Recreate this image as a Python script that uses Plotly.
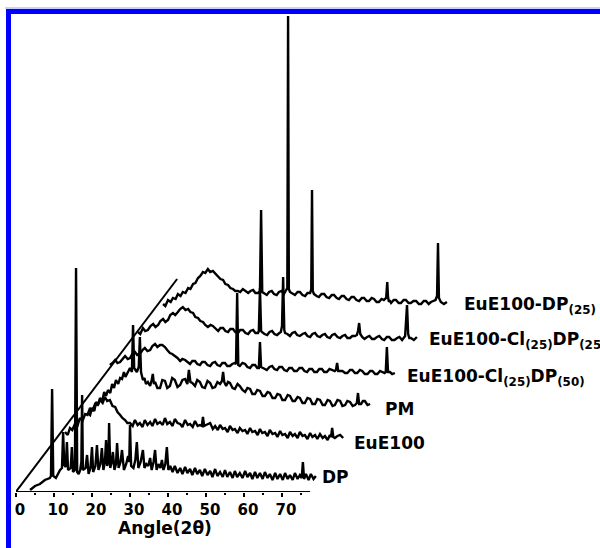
import plotly.graph_objects as go

# ---------------- data (2θ in degrees, intensity in arbitrary units) ----------------
dp_angle = [3.7, 5.0, 6.3, 7.6, 8.9, 9.2, 9.5, 9.8, 10.5, 11.6, 12.1, 12.4, 12.7, 13.1, 13.4, 13.7,
            14.4, 14.7, 15.0, 15.5, 15.8, 16.1, 16.5, 16.9, 17.2, 17.4, 17.6, 18.3, 18.7, 19.1, 19.6,
            20.0, 20.3, 20.9, 21.3, 21.7, 22.2, 22.6, 23.0, 23.4, 23.7, 24.0, 24.3, 24.5, 24.8, 25.2,
            25.5, 25.9, 26.3, 26.6, 27.0, 27.5, 27.9, 28.4, 29.0, 29.5, 29.8, 30.0, 30.3, 30.9, 31.4,
            31.8, 32.2, 32.8, 33.4, 33.8, 34.3, 34.8, 35.3, 35.7, 36.2, 36.6, 37.0, 37.5, 38.0, 38.4,
            38.8, 39.3, 39.7, 40.1, 40.6, 41.2, 41.8, 42.5, 43.2, 43.8, 44.5, 45.1, 45.8, 46.4, 47.1,
            47.7, 48.4, 49.0, 49.7, 50.4, 51.1, 51.7, 52.4, 53.0, 53.7, 54.4, 55.0, 55.6, 56.3, 57.0,
            57.6, 58.2, 58.9, 59.6, 60.3, 60.9, 61.6, 62.2, 62.9, 63.5, 64.2, 64.9, 65.5, 66.2, 66.8,
            67.5, 68.2, 68.8, 69.5, 70.2, 70.8, 71.5, 72.1, 72.8, 73.4, 74.1, 74.7, 75.2, 75.5, 75.8,
            76.3, 77.0, 77.6, 78.3, 78.9]
dp_int = [2, 6, 8, 12, 14, 16, 103, 16, 14, 22, 24, 60, 27, 25, 50, 22,
          24, 45, 20, 22, 224, 20, 18, 22, 30, 97, 22, 24, 37, 18, 24,
          45, 20, 26, 47, 22, 28, 44, 22, 30, 52, 26, 30, 69, 24, 30,
          40, 22, 28, 49, 24, 30, 42, 22, 28, 36, 30, 67, 26, 24, 32,
          50, 24, 30, 42, 24, 28, 26, 34, 22, 30, 42, 22, 28, 24, 32,
          22, 28, 45, 22, 26, 20, 26, 19, 24, 18, 25, 19, 23, 17, 24,
          18, 22, 16, 23, 17, 21, 15, 23, 16, 20, 15, 22, 15, 20, 14,
          21, 15, 19, 14, 21, 15, 19, 13, 20, 14, 19, 13, 20, 14, 18,
          12, 19, 13, 18, 12, 19, 13, 17, 12, 19, 13, 17, 14, 30, 13,
          18, 12, 18, 13, 16]

eue_angle = [6.1, 6.8, 7.4, 8.0, 8.7, 9.3, 10.0, 10.7, 11.4, 12.0, 12.7, 13.3, 14.0, 14.7, 15.3,
             16.0, 16.6, 17.2, 17.9, 18.6, 19.3, 19.9, 20.6, 21.2, 21.9, 22.5, 23.2, 23.9, 24.5,
             25.2, 25.8, 26.5, 27.1, 27.8, 28.5, 29.1, 29.8, 30.4, 31.1, 31.8, 32.4, 33.0, 33.7,
             34.4, 35.0, 35.7, 36.4, 37.0, 37.7, 38.4, 39.0, 39.7, 40.3, 41.0, 41.6, 42.1, 42.4,
             42.7, 43.2, 44.3, 45.0, 45.6, 46.3, 46.9, 47.6, 48.2, 48.9, 49.5, 50.2, 50.8, 51.5,
             52.1, 52.8, 53.5, 54.1, 54.8, 55.4, 56.1, 56.8, 57.4, 58.0, 58.7, 59.4, 60.0, 60.7,
             61.4, 62.0, 62.7, 63.3, 64.0, 64.7, 65.3, 66.0, 66.6, 67.3, 67.9, 68.6, 69.2, 69.9,
             70.6, 71.2, 71.9, 72.5, 73.2, 73.9, 74.5, 75.2, 75.8, 76.1, 76.4, 76.7, 77.1, 77.8,
             78.5, 79.3]
eue_int = [26, 23, 30, 28, 34, 31, 40, 37, 44, 43, 50, 47, 54, 53, 58,
           55, 61, 57, 58, 52, 51, 46, 43, 40, 38, 35, 35, 32, 38,
           33, 35, 31, 38, 33, 36, 32, 39, 34, 36, 33, 40, 34, 36,
           32, 39, 35, 34, 31, 38, 33, 34, 31, 37, 32, 33, 32, 41,
           32, 33, 35, 29, 32, 28, 33, 29, 30, 26, 32, 28, 29, 25,
           30, 27, 28, 24, 30, 26, 27, 23, 29, 25, 26, 22, 28, 24,
           25, 21, 27, 23, 24, 20, 26, 22, 24, 20, 26, 22, 23, 19,
           25, 21, 23, 19, 24, 20, 22, 18, 23, 21, 30, 21, 20, 22,
           23, 20]

pm_angle = [5.3, 5.9, 6.4, 7.0, 7.5, 8.0, 8.5, 9.1, 9.6, 10.1, 10.6, 11.2, 11.7, 12.2, 12.7, 13.3,
            13.8, 14.3, 14.8, 15.2, 15.6, 16.0, 16.4, 16.9, 17.2, 17.5, 18.2, 18.7, 19.0, 19.3,
            19.8, 20.2, 20.6, 21.1, 21.7, 22.1, 22.4, 22.7, 23.0, 23.6, 24.3, 24.9, 25.6, 26.2,
            26.9, 27.5, 28.2, 28.9, 29.6, 30.2, 30.9, 31.5, 31.9, 32.3, 32.8, 33.5, 34.1, 34.8,
            35.4, 36.1, 36.8, 37.5, 38.1, 38.8, 39.4, 40.1, 40.6, 40.9, 41.2, 41.7, 42.2, 42.7,
            43.4, 44.0, 44.7, 45.3, 46.0, 46.7, 47.3, 48.0, 48.6, 49.3, 49.9, 50.6, 51.3, 51.9,
            52.6, 53.2, 53.9, 54.6, 55.2, 55.9, 56.5, 57.2, 57.9, 58.5, 59.2, 59.8, 60.5, 61.1,
            61.8, 62.4, 63.1, 63.8, 64.4, 65.1, 65.7, 66.4, 67.1, 67.7, 68.4, 69.0, 69.7, 70.3,
            71.0, 71.7, 72.3, 73.0, 73.6, 74.3, 75.0, 75.6, 76.1, 76.4, 76.7, 77.2, 77.7, 78.2,
            78.9, 79.6]
pm_int = [11, 9, 16, 13, 22, 19, 26, 23, 32, 28, 34, 31, 40, 36, 44, 40,
          46, 45, 52, 47, 50, 54, 56, 52, 99, 56, 52, 57, 87, 52,
          44, 46, 40, 42, 38, 44, 50, 40, 42, 36, 36, 44, 43, 36,
          38, 46, 44, 37, 39, 44, 45, 40, 54, 42, 41, 38, 44, 42,
          37, 36, 43, 41, 36, 37, 42, 40, 43, 52, 42, 38, 42, 41,
          36, 35, 40, 38, 34, 32, 36, 35, 30, 30, 34, 33, 28, 28,
          32, 31, 26, 26, 30, 29, 24, 24, 29, 28, 23, 23, 27, 26,
          21, 21, 26, 25, 20, 20, 25, 24, 19, 19, 24, 23, 18, 19,
          24, 23, 18, 19, 23, 22, 18, 19, 21, 31, 20, 20, 23, 23,
          19, 20]

d50_angle = [4.3, 5.0, 5.7, 6.3, 7.0, 7.6, 8.3, 9.0, 9.6, 10.2, 10.9, 11.5, 12.2, 12.9, 13.5,
             14.2, 14.9, 15.5, 16.2, 16.8, 17.5, 18.1, 18.8, 19.4, 20.1, 20.7, 21.4, 22.1, 22.8,
             23.4, 24.1, 24.7, 25.4, 26.0, 26.7, 27.3, 28.0, 28.6, 29.3, 30.0, 30.7, 31.3, 32.0,
             32.6, 33.3, 33.9, 34.6, 35.2, 35.9, 36.5, 37.1, 37.5, 37.8, 38.1, 38.5, 39.2, 39.9,
             40.5, 41.2, 41.8, 42.5, 43.1, 43.5, 43.8, 44.1, 44.6, 45.6, 46.3, 47.0, 47.6, 48.3,
             48.9, 49.6, 50.2, 50.9, 51.5, 52.2, 52.8, 53.5, 54.2, 54.9, 55.5, 56.2, 56.8, 57.5,
             58.1, 58.8, 59.4, 60.1, 60.7, 61.4, 62.1, 62.8, 63.5, 63.8, 64.1, 64.4, 64.9, 65.5,
             66.2, 66.8, 67.5, 68.1, 68.8, 69.4, 70.1, 70.7, 71.4, 72.1, 72.8, 73.4, 74.1, 74.7,
             75.4, 76.0, 76.6, 76.9, 77.2, 77.5, 78.0, 78.6, 79.3]
d50_int = [25, 27, 30, 27, 28, 31, 34, 31, 32, 36, 38, 35, 36, 40, 42,
           39, 40, 44, 46, 43, 45, 45, 43, 40, 37, 36, 34, 32, 29,
           31, 30, 28, 26, 29, 29, 26, 25, 28, 28, 25, 24, 27, 28,
           25, 24, 27, 27, 24, 24, 26, 27, 26, 97, 25, 24, 27, 26,
           23, 22, 25, 25, 22, 22, 48, 23, 22, 20, 23, 24, 21, 20,
           23, 23, 20, 19, 22, 22, 19, 19, 22, 22, 19, 18, 21, 21,
           18, 18, 21, 21, 18, 18, 21, 20, 19, 20, 27, 19, 19, 19,
           17, 17, 20, 20, 17, 17, 20, 19, 16, 16, 19, 19, 16, 16,
           19, 18, 17, 18, 43, 18, 18, 16, 17]

c25_angle = [5.8, 6.4, 7.1, 7.7, 8.4, 9.1, 9.8, 10.4, 11.1, 11.7, 12.4, 13.0, 13.7, 14.3, 15.0,
             15.6, 16.3, 16.9, 17.6, 18.3, 19.0, 19.6, 20.3, 20.9, 21.6, 22.2, 22.9, 23.5, 24.2,
             24.9, 25.5, 26.2, 26.9, 27.5, 28.2, 28.8, 29.5, 30.1, 30.8, 31.4, 32.1, 32.7, 33.4,
             34.1, 34.8, 35.4, 36.1, 36.7, 37.4, 37.6, 37.9, 38.2, 38.4, 39.1, 39.8, 40.4, 41.1,
             41.7, 42.4, 43.0, 43.4, 43.7, 44.0, 44.3, 44.5, 45.1, 45.8, 46.4, 47.1, 47.7, 48.4,
             49.1, 49.8, 50.4, 51.1, 51.7, 52.4, 53.0, 53.7, 54.3, 55.0, 55.6, 56.3, 56.9, 57.6,
             58.3, 59.0, 59.6, 60.3, 60.9, 61.6, 62.2, 62.9, 63.4, 63.7, 64.0, 64.3, 64.8, 65.4,
             66.1, 66.7, 67.4, 68.0, 68.7, 69.3, 70.0, 70.6, 71.3, 71.9, 72.6, 73.3, 74.0, 74.6,
             75.3, 75.8, 76.1, 76.6, 76.9, 77.2, 77.6, 78.4, 79.2]
c25_int = [24, 22, 28, 25, 26, 30, 32, 29, 31, 35, 37, 34, 36, 41, 43,
           41, 44, 47, 49, 46, 47, 44, 43, 39, 38, 35, 34, 31, 29,
           31, 30, 27, 25, 28, 28, 25, 24, 27, 27, 24, 23, 26, 26,
           23, 22, 25, 26, 23, 23, 25, 68, 25, 24, 22, 21, 24, 25,
           22, 21, 23, 24, 30, 79, 26, 23, 22, 20, 23, 24, 21, 20,
           22, 23, 20, 19, 22, 23, 20, 19, 21, 22, 19, 18, 21, 22,
           19, 18, 20, 21, 18, 18, 20, 20, 21, 25, 33, 22, 19, 17,
           19, 20, 17, 17, 19, 20, 17, 16, 19, 19, 16, 16, 18, 19,
           16, 18, 20, 51, 22, 18, 18, 16, 19]

d25_angle = [4.7, 5.3, 6.0, 6.7, 7.3, 8.0, 8.6, 9.3, 9.9, 10.6, 11.3, 11.9, 12.6, 13.2, 13.9,
             14.5, 15.2, 15.8, 16.5, 17.1, 17.8, 18.5, 19.2, 19.8, 20.5, 21.1, 21.8, 22.4, 23.1,
             23.7, 24.4, 25.0, 25.7, 26.4, 27.1, 27.7, 28.4, 29.0, 29.7, 30.2, 30.5, 30.8, 31.3,
             32.0, 32.6, 33.3, 33.9, 34.6, 35.2, 35.9, 36.5, 37.1, 37.4, 37.6, 37.8, 38.1, 38.8,
             39.4, 40.1, 40.7, 41.4, 42.1, 42.7, 43.4, 43.7, 43.9, 44.1, 44.4, 45.1, 45.7, 46.4,
             47.1, 47.7, 48.4, 49.1, 49.7, 50.4, 51.0, 51.7, 52.3, 53.0, 53.6, 54.3, 54.9, 55.6,
             56.3, 57.0, 57.6, 58.3, 58.9, 59.6, 60.2, 60.9, 61.5, 62.2, 62.8, 63.4, 63.7, 63.9,
             64.1, 64.4, 64.7, 65.4, 66.0, 66.7, 67.3, 68.0, 68.6, 69.3, 69.9, 70.6, 71.3, 72.0,
             72.6, 73.3, 73.9, 74.6, 75.2, 75.8, 76.4, 76.8, 77.05, 77.3, 77.8, 78.6, 79.4]
d25_int = [18, 16, 22, 20, 24, 23, 28, 26, 30, 29, 34, 33, 38, 39, 44,
           46, 50, 49, 53, 50, 51, 48, 46, 43, 42, 38, 37, 34, 33,
           31, 31, 30, 33, 31, 29, 31, 32, 29, 29, 31, 112, 30, 29,
           27, 30, 31, 28, 27, 30, 31, 28, 32, 34, 306, 33, 30, 28,
           27, 30, 30, 27, 26, 29, 29, 33, 132, 31, 28, 26, 25, 28,
           28, 25, 24, 27, 27, 24, 23, 26, 26, 23, 22, 25, 25, 22,
           21, 24, 24, 21, 21, 24, 23, 20, 20, 23, 22, 24, 40, 25,
           21, 21, 19, 22, 22, 19, 19, 22, 22, 19, 19, 21, 21, 18,
           18, 21, 21, 18, 20, 21, 22, 26, 79, 24, 20, 18, 20]

series_angles = [dp_angle, eue_angle, pm_angle, d50_angle, c25_angle, d25_angle]
series_ints = [dp_int, eue_int, pm_int, d50_int, c25_int, d25_int]
series_labels = ["DP", "EuE100", "PM",
                 "EuE100-Cl<sub>(25)</sub>DP<sub>(50)</sub>",
                 "EuE100-Cl<sub>(25)</sub>DP<sub>(25)</sub>",
                 "EuE100-DP<sub>(25)</sub>"]
tick_vals = [0, 10, 20, 30, 40, 50, 60, 70]
tick_text = ["0", "10", "20", "30", "40", "50", "60", "70"]
minor_vals = [5, 15, 25, 35, 45, 55, 65, 75]

# ---------------- waterfall layout (offsets, label anchors) ----------------
x_shift = [0, 6.8, 13.6, 20.4, 26.3, 34.0]
y_shift = [0, 34, 68, 102, 136, 170]
label_x = [80.0, 88.4, 96.6, 102.4, 108.2, 117.4]
label_y = [15, 49, 83, 115, 152, 187]

PX = 3.8  # pixels per degree
X_MAX = 584 / PX
Y_MAX = 482

fig = go.Figure()
for a, v, xs, ys in zip(series_angles, series_ints, x_shift, y_shift):
    fig.add_trace(go.Scatter(
        x=[t + xs for t in a], y=[w + ys for w in v],
        mode="lines", line=dict(color="black", width=2.4),
        hoverinfo="skip", showlegend=False))

font_lab = dict(family="DejaVu Sans", size=17, color="black", weight="bold")
for txt, lx, ly in zip(series_labels, label_x, label_y):
    fig.add_annotation(x=lx, y=ly, xref="x", yref="y", text=txt, showarrow=False,
                       xanchor="left", yanchor="middle", font=font_lab)

fig.add_annotation(x=39.2, y=(492 - 528) / Y_MAX, xref="x", yref="paper",
                   text="Angle(2θ)", showarrow=False, xanchor="center", yanchor="middle",
                   font=dict(family="DejaVu Sans", size=17, color="black", weight="bold"))

shapes = [
    # x axis line (only under the front pattern)
    dict(type="line", xref="x", yref="y", x0=-0.3, x1=77.4, y0=0, y1=0,
         line=dict(color="black", width=2)),
    # diagonal offset guide
    dict(type="line", xref="x", yref="y", x0=-0.26, y0=-1, x1=42.4, y1=213,
         line=dict(color="black", width=2)),
    # blue frame
    dict(type="rect", xref="paper", yref="paper",
         x0=(8.5 - 16) / 584, x1=1.2, y0=-0.3, y1=(492 - 11.5) / Y_MAX,
         line=dict(color="#0000ff", width=5)),
    dict(type="line", xref="paper", yref="paper",
         x0=(5 - 16) / 584, x1=1.2, y0=(492 - 8) / Y_MAX, y1=(492 - 8) / Y_MAX,
         line=dict(color="#9a9aff", width=1)),
]

fig.update_layout(
    width=600, height=548,
    margin=dict(l=16, r=0, t=10, b=56),
    paper_bgcolor="white", plot_bgcolor="white",
    showlegend=False,
    shapes=shapes,
    xaxis=dict(range=[0, X_MAX], showgrid=False, zeroline=False, showline=False,
               tickvals=tick_vals, ticktext=tick_text, ticks="outside", ticklen=4,
               tickwidth=2, tickcolor="black", ticklabelshift=4,
               tickfont=dict(family="DejaVu Sans", size=15, color="black", weight="bold"),
               minor=dict(tickvals=minor_vals, ticks="outside", ticklen=2,
                          tickwidth=2, tickcolor="black")),
    yaxis=dict(range=[0, Y_MAX], visible=False, showgrid=False, zeroline=False),
)

fig.write_html("out.html")
